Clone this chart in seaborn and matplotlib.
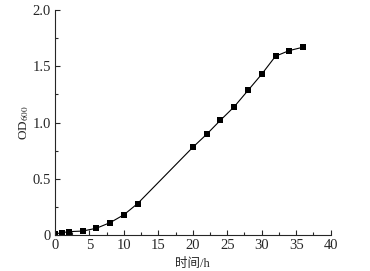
import pandas as pd
import matplotlib
matplotlib.use("Agg")
import matplotlib.pyplot as plt
from matplotlib.ticker import MultipleLocator
import seaborn as sns

# growth curve values
time_h = [0, 1, 2, 4, 6, 8, 10, 12, 20, 22, 24, 26, 28, 30, 32, 34, 36]
od600 = [0.01, 0.02, 0.03, 0.035, 0.06, 0.11, 0.18, 0.28, 0.78, 0.895,
         1.02, 1.14, 1.285, 1.43, 1.59, 1.64, 1.67]

x_label = "时间/h"
y_label = "OD$_{600}$"

sns.set_style("ticks")
plt.rcParams['font.family'] = ['Liberation Serif', 'Noto Sans CJK SC']
plt.rcParams['mathtext.fontset'] = 'stix'

df = pd.DataFrame({'time': time_h, 'od': od600})

fig = plt.figure(figsize=(3.7, 2.71), dpi=100)
ax = fig.add_axes([0.1486, 0.1328, 0.745, 0.830])

sns.lineplot(data=df, x='time', y='od', ax=ax, color='black', linewidth=0.8,
             marker='s', markersize=3.8, markeredgewidth=0)

ax.set_xlim(0, 40)
ax.set_ylim(0, 2.0)
ax.xaxis.set_major_locator(MultipleLocator(5))
ax.xaxis.set_minor_locator(MultipleLocator(2.5))
ax.yaxis.set_minor_locator(MultipleLocator(0.25))
ax.set_yticks([0, 0.5, 1.0, 1.5, 2.0])
ax.set_yticklabels(['0', '0.5', '1.0', '1.5', '2.0'])

ax.tick_params(which='major', direction='in', length=3.5, width=0.8, labelsize=10.5, pad=3)
ax.tick_params(which='minor', direction='in', length=2, width=0.8)
for side in ['left', 'bottom']:
    ax.spines[side].set_linewidth(0.8)
sns.despine(ax=ax)

ax.set_xlabel(x_label, fontsize=9, labelpad=4)
ax.set_ylabel(y_label, fontsize=9.5, labelpad=1)

fig.savefig('out.png', dpi=100)
